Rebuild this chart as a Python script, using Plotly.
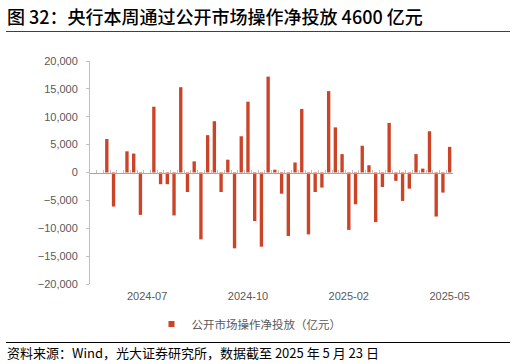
import pandas as pd
import plotly.graph_objects as go

# ---- data ----
dates = [d.strftime("%Y-%m-%d") for d in pd.date_range("2024-05-17", "2025-05-23", freq="7D")]
net_injection = [None, None,
                 6000, -6100, 0, 3800, 3400, -7600, 0, 11800, -2100, -2100,
                 -7700, 15300, -3500, 2000, -12000, 6700, 9200, -3500, 2300, -13600,
                 6500, 12700, -8700, -13300, 17200, 500, -3800, -11400, 1800, 11400,
                 -11100, -3500, -2700, 14600, 8100, 3300, -10300, -5700, 4800, 1300,
                 -8900, -2600, 8900, -1500, -5100, -2900, 3300, 700, 7400, -7900,
                 -3600, 4600]
tick_dates = ["2024-07-12", "2024-10-25", "2025-02-07", "2025-05-23"]
tick_labels = ["2024-07", "2024-10", "2025-02", "2025-05"]
series_name = "公开市场操作净投放（亿元）"
title_text = "图 32：央行本周通过公开市场操作净投放 4600 亿元"
source_text = "资料来源：Wind，光大证券研究所，数据截至 2025 年 5 月 23 日"

# ---- layout geometry (pixels) ----
W, H = 516, 364
L, R, T, B = 90, 63, 61, 80
PW, PH = W - L - R, H - T - B


def px_x(p):
    return (p - L) / PW


def px_y(p):
    return (H - B - p) / PH


BAR_COLOR = "#CC4428"
AXIS_GREY = "#BFBFBF"
TEXT_GREY = "#595959"
LATIN = "Liberation Sans, Arial, sans-serif"
CJK = "Noto Sans CJK SC, sans-serif"

n = len(dates)
fig = go.Figure()
fig.add_trace(go.Bar(x=dates, y=net_injection, marker=dict(color=BAR_COLOR, line=dict(width=0)),
                     showlegend=False, name=series_name))
# legend-only entry with small square symbol
fig.add_trace(go.Scatter(x=[None], y=[None], mode="markers", name=series_name,
                         marker=dict(symbol="square", size=6, color=BAR_COLOR)))
# invisible trace to activate the tick axis at zero
fig.add_trace(go.Scatter(x=[None], y=[None], xaxis="x2", showlegend=False, hoverinfo="skip"))

fig.update_layout(
    width=W, height=H,
    margin=dict(l=L, r=R, t=T, b=B),
    paper_bgcolor="white", plot_bgcolor="white",
    bargap=0.5,
    xaxis=dict(type="category", range=[-0.5, n - 0.5], tickvals=tick_dates, ticktext=tick_labels,
               showgrid=False, zeroline=False, showline=False, ticks="", ticklabelstandoff=4,
               tickfont=dict(family=LATIN, size=11, color=TEXT_GREY)),
    xaxis2=dict(type="linear", overlaying="x", anchor="free", position=0.5, side="bottom",
                range=[-0.5, n - 0.5], tickvals=[k + 0.5 for k in range(-1, n)],
                showticklabels=False, ticks="inside", ticklen=3, tickcolor=AXIS_GREY, tickwidth=1,
                showline=True, linecolor="#A6A6A6", linewidth=1, showgrid=False, zeroline=False),
    yaxis=dict(range=[-20000, 20000], dtick=5000, tickformat=",", showgrid=False, zeroline=False,
               showline=True, linecolor=AXIS_GREY, linewidth=1, ticks="outside", ticklen=3,
               tickcolor=AXIS_GREY, ticklabelstandoff=6,
               tickfont=dict(family=LATIN, size=11, color=TEXT_GREY)),
    legend=dict(orientation="h", x=px_x(249), xanchor="center", y=px_y(324), yanchor="middle",
                font=dict(family=CJK, size=11.5, color=TEXT_GREY), itemwidth=30),
    annotations=[
        dict(text=title_text, x=px_x(5), y=px_y(16), xref="paper", yref="paper", xanchor="left",
             yanchor="middle", showarrow=False, font=dict(family=CJK, size=18, color="#000000", weight=500)),
        dict(text=source_text, x=px_x(5), y=px_y(352), xref="paper", yref="paper", xanchor="left",
             yanchor="middle", showarrow=False, font=dict(family=CJK, size=13, color="#000000")),
    ],
    shapes=[
        dict(type="line", xref="paper", yref="paper", x0=px_x(6), x1=px_x(510), y0=px_y(31.5), y1=px_y(31.5),
             line=dict(color="#404040", width=1)),
        dict(type="line", xref="paper", yref="paper", x0=px_x(6), x1=px_x(510), y0=px_y(342.5), y1=px_y(342.5),
             line=dict(color="#000000", width=1)),
    ],
)

fig.write_html("out.html")
